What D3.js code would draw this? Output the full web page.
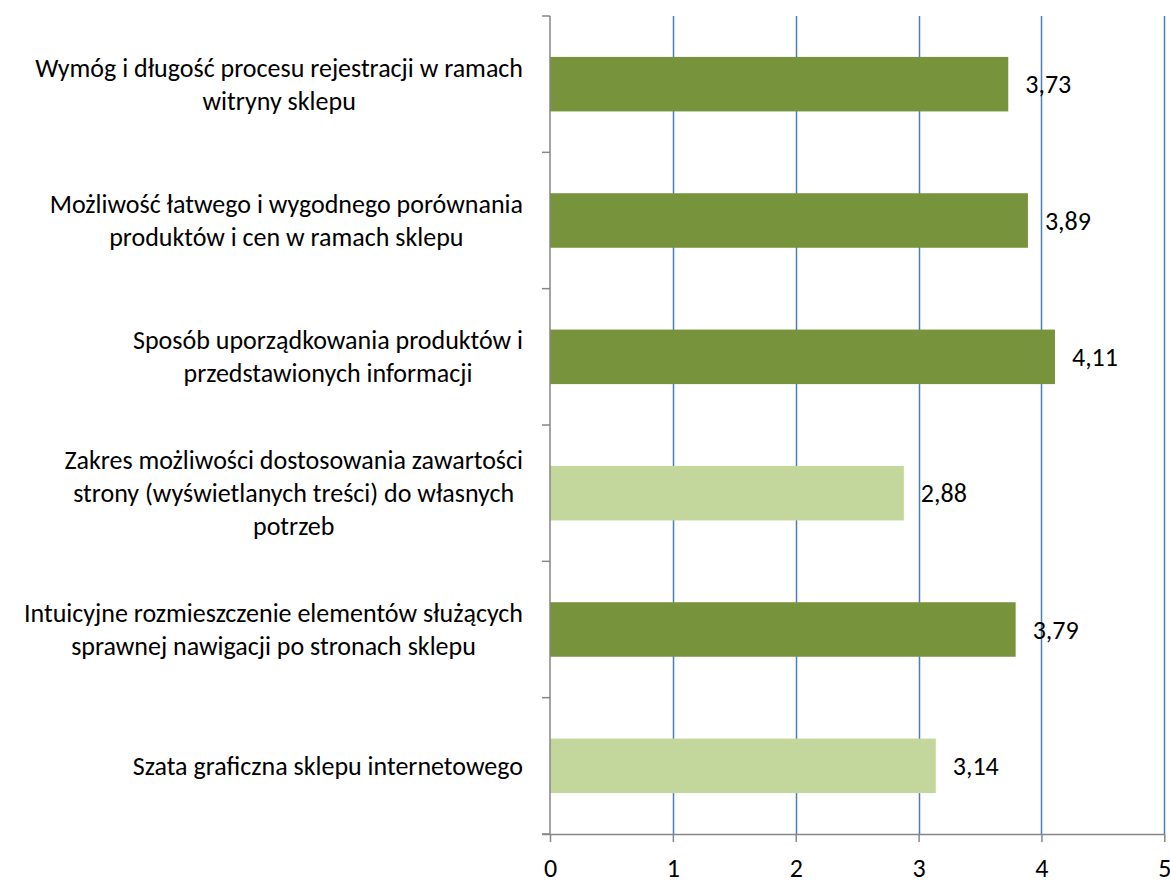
<!DOCTYPE html>
<html>
<head>
<meta charset="utf-8">
<script src="https://cdn.jsdelivr.net/npm/d3@7"></script>
<style>
  html, body { margin: 0; padding: 0; background: #fff; }
  svg { display: block; }
  text { font-family: Carlito, Calibri, "Open Sans", sans-serif; fill: #000; }
</style>
</head>
<body>
<svg id="chart" width="1170" height="880"></svg>
<script>
// Category labels, one array of wrapped lines per bar (top to bottom)
const categories = [
  ["Wymóg i długość procesu rejestracji w ramach", "witryny sklepu"],
  ["Możliwość łatwego i wygodnego porównania", "produktów i cen w ramach sklepu"],
  ["Sposób uporządkowania produktów i", "przedstawionych informacji"],
  ["Zakres możliwości dostosowania zawartości", "strony (wyświetlanych treści) do własnych", "potrzeb"],
  ["Intuicyjne rozmieszczenie elementów służących", "sprawnej nawigacji po stronach sklepu"],
  ["Szata graficzna sklepu internetowego"]
];
// Average ratings
const values = [3.73, 3.89, 4.11, 2.88, 3.79, 3.14];
// Axis ticks
const xTicks = [0, 1, 2, 3, 4, 5];
// Ratings below this are drawn in the lighter shade
const lowThreshold = 3.5;

const W = 1170, H = 880;
const margin = { top: 16, right: 6, bottom: 46, left: 550 };
const fontSize = 26;
const lineGap = 33;

const svg = d3.select("#chart")
  .style("font-size", fontSize + "px");
const x = d3.scaleLinear().domain([0, 5]).range([margin.left, 1164.3]);
const y = d3.scaleBand()
  .domain(d3.range(categories.length))
  .range([margin.top, H - margin.bottom])
  .paddingInner(0.6)
  .paddingOuter(0.3);

// Vertical gridlines
svg.append("g")
  .selectAll("line")
  .data(xTicks.filter(d => d > 0))
  .join("line")
  .attr("x1", d => Math.round(x(d)) + 0.5)
  .attr("x2", d => Math.round(x(d)) + 0.5)
  .attr("y1", margin.top)
  .attr("y2", H - margin.bottom)
  .attr("stroke", "#4A7EBB")
  .attr("stroke-width", 1.5);

// Bars
svg.append("g")
  .selectAll("rect")
  .data(values)
  .join("rect")
  .attr("x", x(0))
  .attr("y", (d, i) => y(i))
  .attr("width", d => x(d) - x(0))
  .attr("height", y.bandwidth())
  .attr("fill", d => d < lowThreshold ? "#C3D69B" : "#77933C");

// Value labels
svg.append("g")
  .selectAll("text")
  .data(values)
  .join("text")
  .attr("x", d => x(d) + 17)
  .attr("y", (d, i) => y(i) + y.bandwidth() / 2)
  .attr("dominant-baseline", "central")
  .text(d => d.toFixed(2).replace(".", ","));

// X axis
const xAxis = d3.axisBottom(x)
  .tickValues(xTicks)
  .tickSize(8)
  .tickFormat(d3.format("d"));
const gx = svg.append("g")
  .attr("transform", `translate(0,${H - margin.bottom})`)
  .call(xAxis)
  .attr("font-size", null)
  .attr("font-family", null);
gx.select(".domain").attr("stroke", "#868686").attr("stroke-width", 1.5)
  .attr("d", `M${x(0) - 8},0.5H${x(5)}`);
gx.selectAll(".tick line").attr("stroke", "#868686").attr("stroke-width", 1.5);
gx.selectAll(".tick text")
  .attr("y", 34)
  .attr("dy", null)
  .attr("dominant-baseline", "central")
  .attr("fill", "#000");

// Y axis: line with ticks at band boundaries
const yEdges = d3.range(categories.length + 1).map(i => margin.top + i * y.step());
const gy = svg.append("g");
gy.append("line")
  .attr("x1", x(0)).attr("x2", x(0))
  .attr("y1", margin.top).attr("y2", H - margin.bottom)
  .attr("stroke", "#868686").attr("stroke-width", 1.5);
gy.selectAll("line.tk")
  .data(yEdges)
  .join("line")
  .attr("class", "tk")
  .attr("x1", x(0) - 8).attr("x2", x(0))
  .attr("y1", d => d).attr("y2", d => d)
  .attr("stroke", "#868686").attr("stroke-width", 1.5);

// Category labels: lines centred within the block, block right-aligned
const labelRight = x(0) - 27;
const lg = svg.append("g");
categories.forEach((lines, i) => {
  const cy = y(i) + y.bandwidth() / 2;
  const g = lg.append("g");
  const texts = g.selectAll("text")
    .data(lines)
    .join("text")
    .attr("y", (d, k) => cy + (k - (lines.length - 1) / 2) * lineGap)
    .attr("dominant-baseline", "central")
    .attr("text-anchor", "middle")
    .text(d => d);
  const widest = d3.max(texts.nodes(), n => n.getComputedTextLength());
  texts.attr("x", labelRight - widest / 2);
});
</script>
</body>
</html>
